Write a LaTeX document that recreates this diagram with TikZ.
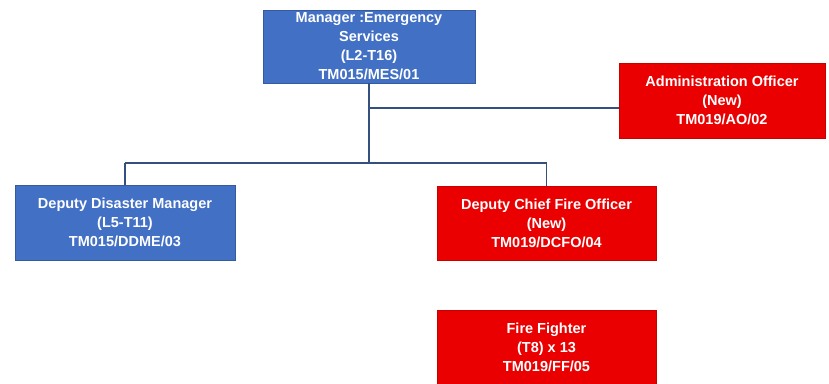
\documentclass[tikz,border=0pt]{standalone}
\usepackage{fontspec}
\setmainfont{Liberation Sans}
\definecolor{boxblue}{HTML}{4270C4}
\definecolor{boxred}{HTML}{EA0000}
\definecolor{linecol}{HTML}{34507E}
\begin{document}
\begin{tikzpicture}[x=1pt,y=-1pt,
  orgbox/.style={rectangle, minimum width=#1, inner sep=0pt, text=white,
    align=center, font=\fontsize{14.5}{19}\selectfont\bfseries},
  bluebox/.style={orgbox=#1, fill=boxblue, draw=boxblue!80!black, line width=0.6pt},
  redbox/.style={orgbox=#1, fill=boxred, draw=boxred!85!black, line width=0.6pt},
  conn/.style={draw=linecol, line width=1.1pt}]
\useasboundingbox (0,0) rectangle (829,383);
\node[bluebox=212pt, minimum height=73pt] (mgr) at (369,46.5)
  {Manager :Emergency\\Services\\(L2-T16)\\TM015/MES/01};
\node[redbox=206pt, minimum height=75pt] (ao) at (722,100.5)
  {Administration Officer\\(New)\\TM019/AO/02};
\node[bluebox=220pt, minimum height=75pt] (ddm) at (125,222.5)
  {Deputy Disaster Manager\\(L5-T11)\\TM015/DDME/03};
\node[redbox=219pt, minimum height=74pt] (dcfo) at (546.5,223)
  {Deputy Chief Fire Officer\\(New)\\TM019/DCFO/04};
\node[redbox=219pt, minimum height=74pt] (ff) at (546.5,347)
  {Fire Fighter\\(T8) x 13\\TM019/FF/05};
\coordinate (bus) at (0,163);
\coordinate (aoj) at (369,108);
\draw[conn] (mgr.south) -- (mgr.south |- bus);
\draw[conn] (aoj) -- (aoj -| ao.west);
\draw[conn] (ddm.north |- bus) -- (dcfo.north |- bus);
\draw[conn] (ddm.north |- bus) -- (ddm.north);
\draw[conn] (dcfo.north |- bus) -- (dcfo.north);
\end{tikzpicture}
\end{document}
